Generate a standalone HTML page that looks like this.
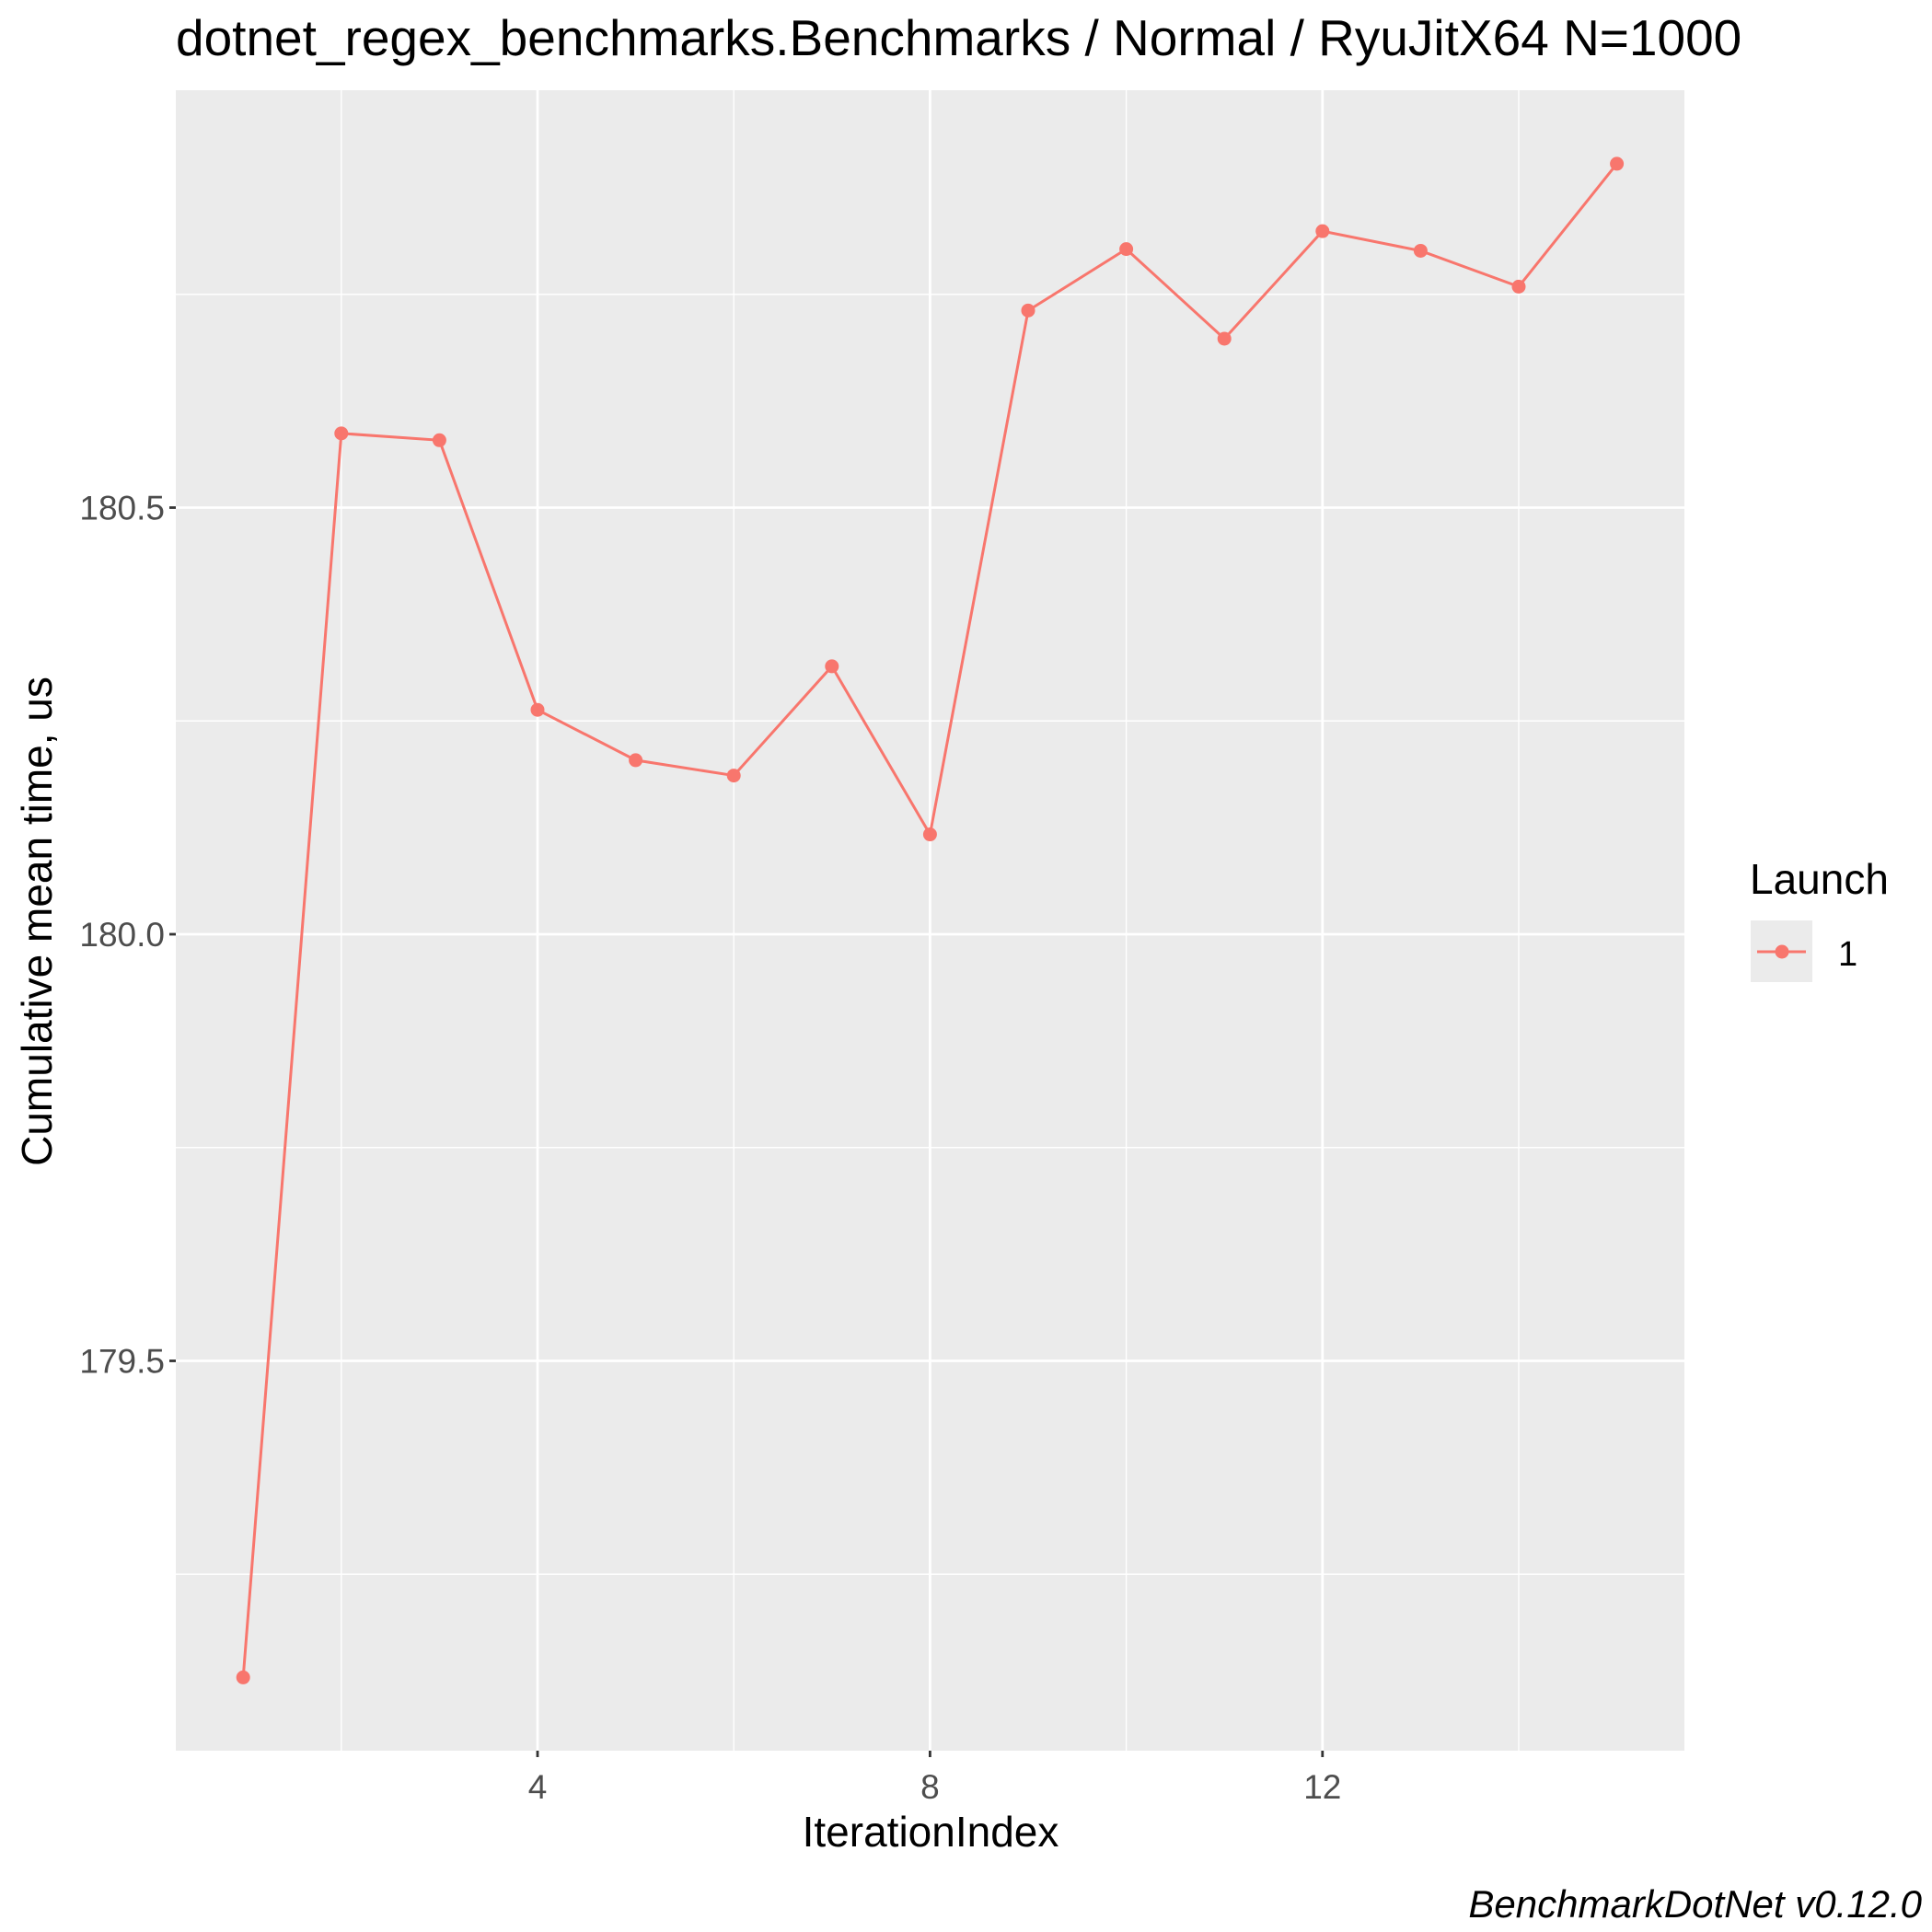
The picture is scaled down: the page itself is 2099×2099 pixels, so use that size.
<!DOCTYPE html>
<html><head><meta charset="utf-8"><style>html,body{margin:0;padding:0;background:#fff}svg{display:block}text{font-family:"Liberation Sans",Arial,sans-serif}</style></head>
<body>
<svg id="chart" width="2099" height="2099" viewBox="0 0 2099 2099" xmlns="http://www.w3.org/2000/svg">
<rect x="191" y="98" width="1639" height="1804" fill="#EBEBEB"/>
<g id="grid"></g><g id="series"></g><g id="axes"></g>
<text x="191" y="60" font-size="55" fill="#000">dotnet_regex_benchmarks.Benchmarks / Normal / RyuJitX64 N=1000</text>
<text x="1011" y="2006" font-size="46" text-anchor="middle" fill="#000">IterationIndex</text>
<text transform="translate(56,1001) rotate(-90)" font-size="46" text-anchor="middle" fill="#000">Cumulative mean time, us</text>
<text x="1901" y="971" font-size="46" fill="#000">Launch</text>
<rect x="1902" y="1000" width="67" height="67" fill="#EBEBEB"/>
<line x1="1909" y1="1034" x2="1962" y2="1034" stroke="#F8766D" stroke-width="3"/>
<circle cx="1936" cy="1034" r="7.5" fill="#F8766D"/>
<text x="1997" y="1049" font-size="38" fill="#000">1</text>
<text x="2088" y="2083" font-size="42" font-style="italic" text-anchor="end" fill="#000">BenchmarkDotNet v0.12.0</text>
</svg>
<script>
const iterations=[1,2,3,4,5,6,7,8,9,10,11,12,13,14,15];
const meanTimes=[179.129,180.587,180.579,180.263,180.204,180.186,180.314,180.117,180.731,180.803,180.698,180.824,180.801,180.759,180.903];
const xTicks=[4,8,12];
const xMinor=[2,6,10,14];
const yTicks=[179.5,180.0,180.5];
const yTickLabels=["179.5","180.0","180.5"];
const yMinor=[179.25,179.75,180.25,180.75];
const NS="http://www.w3.org/2000/svg";
const L=191,R=1830,T=98,B=1902;
function xs(v){return 584+(v-4)*106.6;}
function ys(v){return 1015-(v-180)*927;}
function mk(tag,attrs,parent){const e=document.createElementNS(NS,tag);for(const k in attrs)e.setAttribute(k,attrs[k]);parent.appendChild(e);return e;}
const grid=document.getElementById('grid'),axes=document.getElementById('axes'),series=document.getElementById('series');
yMinor.forEach(v=>{const l=mk('line',{x1:L,x2:R,y1:ys(v),y2:ys(v),stroke:'#fff','stroke-width':1.4},grid);

});
xMinor.forEach(v=>{const l=mk('line',{x1:xs(v),x2:xs(v),y1:T,y2:B,stroke:'#fff','stroke-width':1.4},grid);

});
yTicks.forEach((v,i)=>{const y=ys(v);
const l=mk('line',{x1:L,x2:R,y1:y,y2:y,stroke:'#fff','stroke-width':2.8},grid);


const t=mk('line',{x1:L-7,x2:L,y1:y,y2:y,stroke:'#333','stroke-width':2.8},axes);


const tx=mk('text',{x:L-12,y:y+13,'font-size':37,'text-anchor':'end',fill:'#4D4D4D'},axes);tx.textContent=yTickLabels[i];

});
xTicks.forEach(v=>{const x=xs(v);
const l=mk('line',{x1:x,x2:x,y1:T,y2:B,stroke:'#fff','stroke-width':2.8},grid);


const t=mk('line',{x1:x,x2:x,y1:B,y2:B+7,stroke:'#333','stroke-width':2.8},axes);


const tx=mk('text',{x:x,y:B+52,'font-size':37,'text-anchor':'middle',fill:'#4D4D4D'},axes);tx.textContent=String(v);

});
const pts=iterations.map((v,i)=>xs(v)+','+ys(meanTimes[i])).join(' ');
const pl=mk('polyline',{points:pts,fill:'none',stroke:'#F8766D','stroke-width':3},series);


iterations.forEach((v,i)=>{const c=mk('circle',{cx:xs(v),cy:ys(meanTimes[i]),r:7.5,fill:'#F8766D'},series);

});
</script>
</body></html>
